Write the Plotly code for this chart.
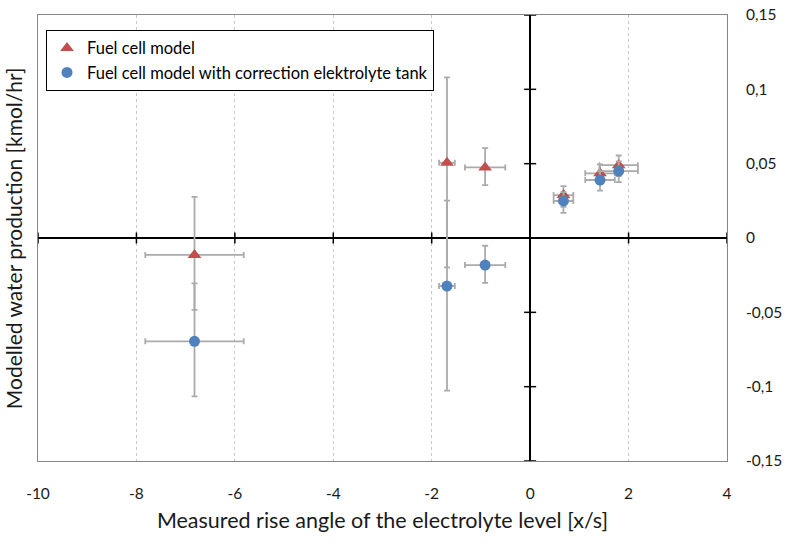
import plotly.graph_objects as go

# ---- data ----
x_meas = [-6.82, -1.69, -0.915, 0.677, 1.42, 1.80]
x_err = [1.0, 0.16, 0.41, 0.2, 0.3, 0.39]

y_model = [-0.0114, 0.0506, 0.0475, 0.0289, 0.0435, 0.049]
y_corr = [-0.0695, -0.0323, -0.0182, 0.0249, 0.039, 0.045]

y_err_plus = [0.039, 0.0575, 0.013, 0.006, 0.006, 0.0065]
y_err_minus = [0.037, 0.0703, 0.012, 0.008, 0.0072, 0.0074]

series_names = ["Fuel cell model", "Fuel cell model with correction elektrolyte tank"]

x_ticks = [-10, -8, -6, -4, -2, 0, 2, 4]
x_ticktext = ["-10", "-8", "-6", "-4", "-2", "0", "2", "4"]
y_ticks = [0.15, 0.1, 0.05, 0, -0.05, -0.1, -0.15]
y_ticktext = ["0,15", "0,1", "0,05", "0", "-0,05", "-0,1", "-0,15"]

x_title = "Measured rise angle of the electrolyte level [x/s]"
y_title = "Modelled water production [kmol/hr]"

FONT = "Lato"
ERR_COLOR = "#ABABAB"
TXT = "#1a1a1a"

def err_x():
    return dict(type="data", array=x_err, symmetric=True, color=ERR_COLOR, thickness=1.8, width=3)

def err_y():
    return dict(type="data", array=y_err_plus, arrayminus=y_err_minus, symmetric=False,
                color=ERR_COLOR, thickness=1.8, width=3)

fig = go.Figure()
fig.add_trace(go.Scatter(
    x=x_meas, y=y_model, mode="markers", name=series_names[0],
    marker=dict(symbol="triangle-up", size=12, color="#C0504D"),
    error_x=err_x(), error_y=err_y(),
))
fig.add_trace(go.Scatter(
    x=x_meas, y=y_corr, mode="markers", name=series_names[1],
    marker=dict(symbol="circle", size=11, color="#4F81BD"),
    error_x=err_x(), error_y=err_y(),
))

# crossing tick marks on the axes through the origin
shapes = []
for xv in x_ticks:
    shapes.append(dict(type="line", xref="x", yref="y", ysizemode="pixel", yanchor=0,
                       x0=xv, x1=xv, y0=-5.5, y1=5.5, line=dict(color="black", width=1.5)))
for yv in y_ticks:
    shapes.append(dict(type="line", xref="x", yref="y", xsizemode="pixel", xanchor=0,
                       y0=yv, y1=yv, x0=-6, x1=6, line=dict(color="black", width=1.5)))

fig.update_layout(
    width=790, height=545,
    margin=dict(l=38, r=63, t=15, b=84),
    paper_bgcolor="white", plot_bgcolor="white",
    font=dict(family=FONT, color=TXT, size=15),
    showlegend=True,
    legend=dict(x=0.0116, y=0.967, xanchor="left", yanchor="top",
                bgcolor="white", bordercolor="black", borderwidth=1,
                font=dict(family=FONT, size=16.5, color="black"),
                itemwidth=30, tracegroupgap=0),
    xaxis=dict(range=[-10, 4], tickvals=x_ticks, ticktext=x_ticktext, ticks="",
               automargin=False,
               showgrid=True, gridcolor="#C8C8C8", griddash="dot", gridwidth=1,
               zeroline=True, zerolinecolor="black", zerolinewidth=1.5,
               showline=True, mirror=True, linecolor="#868686", linewidth=1,
               ticklabelstandoff=18, tickfont=dict(size=15.5, color=TXT),
               title=dict(text=x_title, font=dict(size=21.5, color=TXT), standoff=12)),
    yaxis=dict(range=[-0.15, 0.15], tickvals=y_ticks, ticktext=y_ticktext, ticks="",
               automargin=False,
               side="right", showgrid=False,
               zeroline=True, zerolinecolor="black", zerolinewidth=1.5,
               showline=True, mirror=True, linecolor="#868686", linewidth=1,
               ticklabelstandoff=15, tickfont=dict(size=15.5, color=TXT)),
    shapes=shapes,
    annotations=[dict(text=y_title, xref="paper", yref="paper", x=-0.036, y=0.5,
                      xanchor="center", yanchor="middle", textangle=-90, showarrow=False,
                      font=dict(family=FONT, size=21, color=TXT))],
)

fig.write_html("out.html")
